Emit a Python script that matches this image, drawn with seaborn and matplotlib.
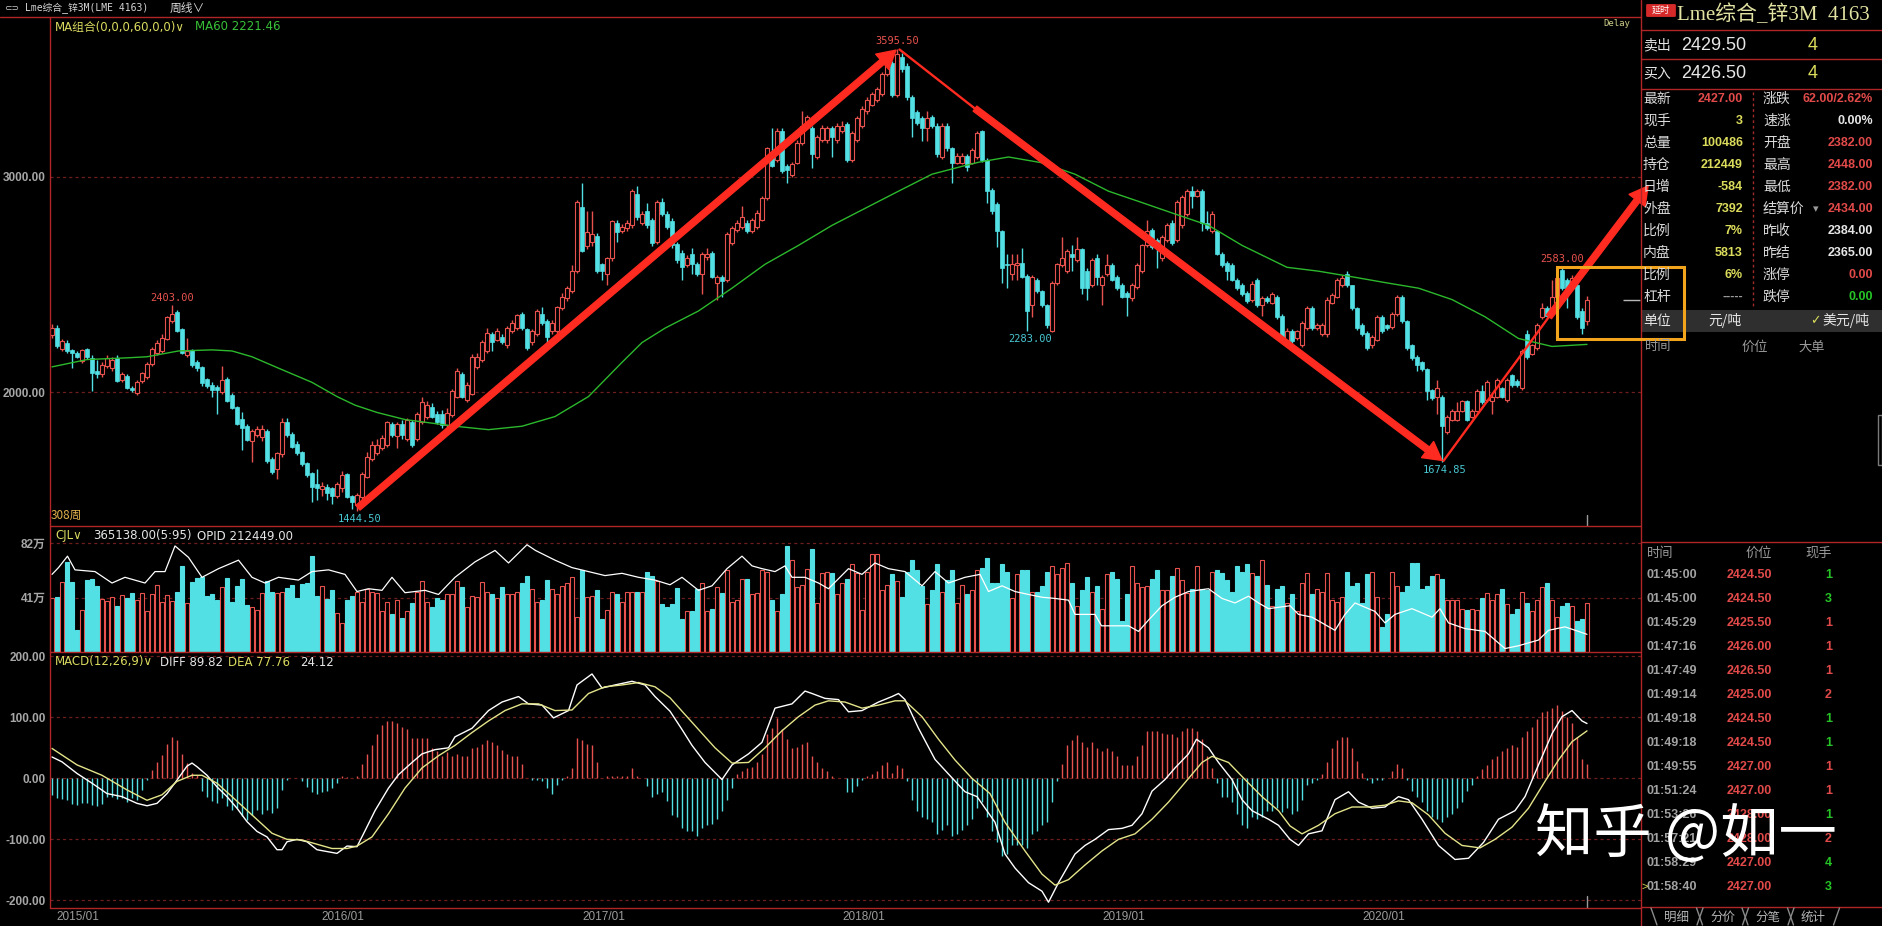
import matplotlib
matplotlib.use("Agg")
import numpy as np
import pandas as pd
import seaborn as sns
import matplotlib.pyplot as plt
from matplotlib.patches import Rectangle, FancyArrowPatch, FancyBboxPatch
from matplotlib.lines import Line2D

# ---------------------------------------------------------------- data
# weekly candles (index 0 = first week shown, 308 weeks)
opens = [2265,2297,2200,2230,2195,2180,2145,2200,2160,2100,
 2085,2120,2110,2160,2055,2075,2020,1995,2050,2070,
 2130,2180,2190,2245,2330,2370,2295,2170,2195,2140,
 2115,2060,2035,2025,2000,2060,1985,1930,1875,1840,
 1770,1800,1790,1820,1690,1640,1710,1860,1805,1760,
 1720,1670,1625,1570,1550,1560,1555,1515,1555,1620,
 1515,1474,1510,1607,1687,1715,1740,1753,1851,1795,
 1851,1780,1859,1780,1859,1885,1931,1899,1899,1846,
 1893,1979,2085,1965,1992,2117,2151,2191,2270,2244,
 2257,2217,2284,2297,2363,2292,2231,2270,2363,2329,
 2284,2284,2390,2435,2469,2562,2859,2680,2700,2727,
 2594,2549,2621,2788,2748,2761,2775,2920,2788,2841,
 2800,2700,2886,2828,2796,2690,2647,2589,2642,2594,
 2549,2629,2647,2509,2536,2520,2695,2753,2769,2788,
 2748,2769,2801,2902,3093,3080,3212,3050,3008,3066,
 3159,3239,3226,3093,3172,3172,3226,3172,3212,3247,
 3080,3172,3239,3305,3337,3358,3385,3478,3531,3379,
 3557,3517,3371,3300,3273,3226,3279,3239,3093,3239,
 3133,3066,3066,3098,3066,3093,3212,3080,2939,2875,
 2748,2594,2549,2589,2602,2541,2403,2522,2469,2403,
 2284,2509,2589,2562,2642,2615,2663,2562,2496,2621,
 2496,2549,2589,2536,2496,2461,2435,2488,2562,2682,
 2753,2708,2621,2708,2788,2708,2775,2828,2934,2912,
 2934,2788,2748,2748,2642,2602,2589,2522,2496,2461,
 2430,2522,2403,2435,2416,2443,2355,2244,2284,2249,
 2217,2297,2390,2297,2270,2270,2416,2443,2496,2549,
 2496,2390,2310,2276,2217,2244,2350,2310,2302,2363,
 2443,2329,2217,2164,2138,2106,2010,1979,1979,1814,
 1872,1872,1912,1957,1886,1912,2005,1965,1957,1979,
 2018,1965,2079,2053,2018,2270,2178,2204,2350,2390,
 2377,2443,2568,2522,2483,2496,2377,2330]
highs = [2315,2310,2245,2240,2200,2190,2200,2205,2170,2150,
 2140,2170,2165,2170,2095,2085,2030,2055,2095,2140,
 2210,2240,2270,2355,2403,2380,2300,2250,2200,2150,
 2120,2065,2045,2035,2120,2070,1995,1935,1905,1850,
 1830,1840,1845,1830,1700,1720,1880,1880,1815,1770,
 1725,1675,1630,1640,1580,1570,1560,1580,1635,1625,
 1520,1530,1630,1720,1770,1780,1800,1865,1860,1860,
 1870,1880,1872,1905,1975,1960,1950,1910,1915,1925,
 2015,2110,2095,2045,2175,2180,2240,2300,2280,2300,
 2270,2305,2335,2365,2370,2300,2295,2385,2395,2340,
 2335,2400,2460,2495,2590,2895,2973,2840,2841,2740,
 2600,2630,2800,2800,2780,2800,2945,2960,2840,2880,
 2810,2895,2900,2840,2810,2700,2660,2635,2668,2605,
 2650,2668,2655,2545,2545,2745,2770,2800,2867,2800,
 2810,2845,2910,3140,3226,3226,3226,3060,3070,3170,
 3305,3290,3235,3195,3240,3235,3235,3250,3260,3255,
 3215,3285,3330,3370,3395,3420,3490,3530,3540,3595.5,
 3575,3530,3380,3310,3285,3305,3290,3250,3250,3250,
 3140,3110,3110,3105,3135,3215,3220,3090,2950,2885,
 2755,2642,2642,2642,2668,2550,2545,2530,2475,2410,
 2515,2600,2721,2665,2682,2721,2670,2575,2625,2642,
 2545,2642,2600,2545,2505,2470,2505,2600,2690,2801,
 2765,2715,2730,2785,2800,2895,2915,2945,2960,2945,
 2945,2841,2840,2755,2650,2610,2600,2530,2505,2470,
 2515,2530,2445,2445,2465,2450,2365,2300,2295,2290,
 2330,2400,2400,2320,2320,2440,2460,2530,2545,2562,
 2500,2395,2320,2285,2265,2360,2360,2315,2370,2450,
 2450,2335,2225,2170,2145,2110,2015,2058,1985,1895,
 1920,1952,1965,1965,1920,2015,2032,2055,1990,2065,
 2025,2065,2085,2060,2200,2290,2225,2320,2416,2400,
 2522,2540,2583,2530,2545,2530,2390,2448]
lows = [2250,2205,2190,2180,2110,2160,2135,2155,2005,2065,
 2070,2110,2100,2045,2045,2015,2000,1985,2040,2060,
 2120,2170,2180,2240,2320,2280,2175,2165,2115,2100,
 2030,2020,1975,1900,1990,1955,1920,1845,1730,1770,
 1675,1790,1770,1670,1620,1595,1700,1790,1740,1705,
 1655,1605,1490,1500,1515,1500,1480,1505,1535,1505,
 1455,1444.5,1500,1600,1680,1705,1730,1745,1790,1740,
 1780,1770,1745,1770,1850,1875,1880,1850,1835,1820,
 1885,1970,1970,1955,1985,2105,2140,2180,2190,2235,
 2225,2205,2275,2290,2290,2195,2220,2260,2310,2220,
 2270,2275,2380,2425,2460,2555,2650,2665,2680,2555,
 2520,2500,2610,2700,2740,2750,2765,2800,2775,2765,
 2680,2690,2820,2760,2670,2600,2522,2580,2549,2540,
 2456,2615,2530,2430,2443,2510,2685,2745,2760,2740,
 2740,2760,2795,2895,3045,3070,3020,2973,3000,3060,
 3150,3230,3040,3085,3165,3160,3093,3160,3205,3070,
 3070,3165,3230,3295,3330,3350,3375,3470,3370,3370,
 3490,3360,3186,3240,3167,3167,3230,3095,3085,3120,
 2973,3060,3060,3030,3060,3085,3070,2881,2830,2674,
 2509,2483,2522,2522,2530,2283,2350,2460,2395,2300,
 2280,2500,2580,2555,2562,2605,2456,2430,2490,2496,
 2403,2540,2515,2475,2435,2355,2425,2480,2555,2675,
 2665,2576,2610,2700,2685,2700,2765,2820,2854,2905,
 2748,2755,2740,2635,2580,2522,2515,2475,2445,2415,
 2420,2395,2355,2415,2410,2340,2250,2235,2230,2240,
 2210,2290,2290,2290,2260,2257,2410,2435,2490,2490,
 2380,2290,2260,2195,2205,2235,2275,2290,2295,2355,
 2320,2195,2150,2098,2100,1965,1965,1899,1674.85,1805,
 1865,1865,1905,1865,1880,1905,1945,1955,1899,1970,
 1970,1955,2025,2025,2010,2155,2170,2195,2340,2350,
 2370,2435,2475,2390,2475,2340,2270,2310]
closes = [2300,2215,2235,2190,2180,2165,2195,2165,2090,2085,
 2125,2160,2150,2050,2085,2020,2010,2045,2090,2130,
 2200,2230,2250,2350,2365,2285,2180,2190,2125,2110,
 2040,2030,2010,2010,2055,1960,1925,1850,1835,1775,
 1820,1830,1830,1680,1630,1715,1860,1800,1745,1715,
 1665,1615,1560,1555,1565,1530,1515,1570,1615,1510,
 1490,1520,1620,1700,1753,1753,1788,1859,1798,1851,
 1798,1872,1753,1899,1952,1939,1885,1859,1846,1904,
 2005,2098,1979,2032,2164,2164,2231,2276,2231,2284,
 2231,2297,2323,2358,2297,2204,2284,2377,2323,2257,
 2323,2395,2443,2483,2562,2886,2655,2743,2735,2562,
 2562,2621,2796,2743,2769,2788,2934,2814,2828,2775,
 2695,2886,2828,2769,2682,2615,2583,2621,2594,2549,
 2642,2642,2536,2536,2514,2735,2761,2788,2814,2748,
 2801,2833,2902,3133,3053,3212,3027,3034,3061,3159,
 3239,3279,3106,3186,3226,3226,3186,3239,3239,3080,
 3204,3273,3318,3358,3385,3411,3478,3517,3379,3570,
 3504,3371,3273,3252,3226,3273,3239,3106,3239,3133,
 3066,3098,3098,3045,3125,3204,3080,2934,2841,2748,
 2576,2589,2594,2602,2536,2377,2536,2469,2403,2310,
 2509,2594,2621,2655,2629,2663,2483,2483,2615,2536,
 2536,2589,2522,2483,2443,2443,2496,2589,2682,2748,
 2674,2668,2721,2775,2695,2886,2907,2934,2912,2934,
 2788,2761,2828,2642,2589,2562,2522,2483,2456,2424,
 2504,2403,2435,2424,2456,2350,2257,2285,2239,2284,
 2323,2390,2297,2310,2310,2430,2451,2522,2530,2496,
 2390,2297,2270,2204,2257,2350,2284,2297,2363,2443,
 2329,2204,2159,2124,2106,2005,1973,2018,1841,1886,
 1912,1912,1957,1872,1912,2005,1952,2045,1979,2058,
 1979,2058,2032,2032,2191,2164,2217,2310,2390,2355,
 2443,2530,2483,2483,2530,2350,2297,2427]
# weekly volume (unit: 万 lots)
volume_wan = [40.4,41.6,52.9,67.9,52.9,16.5,31.6,54.1,54.9,49.6,
 39.6,38.4,41.6,34.6,42.6,40.6,44.1,39.1,44.1,30.8,
 43.6,50.1,37.6,42.6,38.4,45.1,64.7,36.6,52.6,55.4,
 56.6,42.1,43.6,39.1,48.6,55.4,37.6,49.6,54.9,35.3,
 33.6,31.6,44.6,53.1,45.4,44.6,45.4,47.9,50.1,40.4,
 51.1,51.6,72.2,42.1,49.6,39.6,46.6,29.1,21.6,39.1,
 42.1,45.5,37.8,47.6,45.5,44.6,30.5,37.8,28.3,39.0,
 25.8,30.5,36.9,45.5,53.2,37.8,33.5,40.3,39.0,43.3,
 43.3,53.2,48.9,33.5,42.0,41.2,52.4,45.5,43.3,40.3,
 48.9,43.3,43.3,45.5,51.9,57.5,47.6,37.8,39.0,54.1,
 47.2,43.3,49.8,51.9,56.2,26.2,61.8,41.2,42.0,46.4,
 24.9,31.8,45.5,43.3,37.8,45.5,45.5,45.5,45.5,60.5,
 57.5,53.2,36.1,33.5,36.1,48.5,24.9,30.5,30.5,47.6,
 51.9,30.5,32.6,48.9,44.6,61.8,37.8,39.0,54.9,54.9,
 43.3,44.6,61.8,60.5,39.0,30.5,43.3,79.8,69.1,48.9,
 50.6,62.7,77.7,36.9,59.2,60.5,59.2,43.3,51.9,54.9,
 66.1,59.2,31.8,60.5,73.4,73.4,46.4,50.6,58.4,53.2,
 41.2,60.5,69.1,61.8,49.8,36.1,46.4,66.1,45.5,54.1,
 61.8,36.9,50.6,43.3,46.4,61.8,63.5,70.4,51.9,51.9,
 66.1,60.5,40.3,58.4,61.8,61.8,45.5,45.5,49.8,60.5,
 64.8,58.4,63.5,67.0,51.9,34.8,46.4,56.2,45.5,49.8,
 32.6,58.4,60.5,54.9,23.2,43.3,64.8,51.9,48.9,49.8,
 54.9,61.8,46.4,46.4,57.5,63.5,54.1,44.6,47.6,64.8,
 47.6,46.4,60.5,61.8,59.2,54.1,45.5,64.8,60.5,66.1,
 59.2,57.5,69.1,50.6,34.8,47.6,49.8,36.9,43.3,30.5,
 51.9,59.2,43.3,47.6,45.5,59.2,39.0,37.8,41.2,60.5,
 49.8,51.9,36.9,58.4,60.5,41.2,18.9,28.3,60.5,49.8,
 45.5,49.8,67.0,67.0,47.6,49.8,57.5,58.4,54.9,39.0,
 39.0,39.0,32.6,31.8,32.6,31.8,40.3,44.6,39.0,43.3,
 47.6,36.1,28.3,32.6,45.5,36.9,30.5,39.0,48.9,51.9,
 39.0,26.2,34.8,36.9,34.8,23.2,24.9,36.9]
# MACD histogram bars
macd_hist = [-27,-33,-34,-36,-42,-44,-40,-41,-44,-46,
 -42,-31,-30,-34,-33,-38,-33,-36,-19,-3,
 14,27,38,56,67,62,40,25,8,5,
 -20,-30,-37,-40,-33,-45,-52,-49,-62,-68,
 -60,-52,-58,-52,-57,-49,-19,-3,0,0,
 -5,-14,-22,-25,-22,-20,-16,-8,3,2,
 1,3,24,40,54,73,87,94,94,90,
 84,81,66,66,66,66,50,45,36,43,
 36,40,36,37,50,52,56,62,59,54,
 47,40,37,36,24,0,-2,-2,-4,-16,
 -25,-11,-2,3,17,66,62,56,54,26,
 0,3,3,3,3,3,17,3,0,-13,
 -30,-25,-22,-37,-60,-63,-82,-86,-86,-94,
 -82,-77,-75,-67,-53,-35,-16,7,12,17,
 19,26,40,73,82,99,81,64,50,52,
 56,59,36,26,17,12,3,0,0,-22,
 -22,-13,-2,3,7,12,22,26,9,22,
 17,-4,-35,-53,-63,-67,-72,-91,-84,-77,
 -94,-91,-84,-77,-66,-49,-39,-63,-86,-105,
 -128,-124,-110,-110,-110,-114,-91,-86,-77,-72,
 -39,-4,24,54,62,71,59,52,59,50,
 45,50,45,36,22,22,22,36,54,78,
 78,78,75,73,73,68,78,82,82,78,
 64,36,17,-7,-30,-30,-39,-58,-77,-82,
 -63,-67,-63,-53,-53,-49,-56,-49,-58,-53,
 -35,-11,-7,-2,7,26,50,62,68,68,
 50,28,9,-2,-7,-2,-2,0,12,24,
 17,-2,-21,-30,-39,-53,-63,-67,-72,-63,
 -58,-49,-39,-21,-11,3,15,22,31,36,
 45,50,54,52,68,78,84,97,109,111,
 115,120,111,101,90,68,31,24.12]
# MA60 line read at points (week index, price)
ma60_week = [0,7,15,19,25.3,32,36,40,45.3,52,57,60.6,65,70.6,80.6,87.3,94,100.6,107.3,114,
 118,122.6,129.3,136,142.6,149.3,156,162.6,169.3,176,182.6,185.6,191.3,198,204.6,211.3,218,224.6,231.3,238,
 247,253.3,260,266.6,273.3,280,286.6,293.3,300,307]
ma60_val = [2117,2151,2159,2164,2191,2196,2191,2164,2111,2045,1979,1939,1905,1872,1841,1825,1841,1886,1979,2138,
 2230,2297,2377,2483,2594,2682,2775,2854,2934,3013,3053,3070,3093,3066,3013,2934,2881,2828,2775,2682,
 2580,2562,2536,2509,2483,2430,2350,2249,2212,2221.46]
# MACD DIFF / DEA lines read at points
diff_week = [0,2,5,8,11,14,17,19,21,23,25,27,28,29,31,33,35,37,39,41,43,45,46,47,49,51,53,55,57,59,
 61,62.6,64.6,67.3,69.3,72,74,76.6,79.3,80.6,84,87.3,90,93.3,95.3,98,100.3,103.3,105,108,
 110,112.6,116,118.6,120.6,123.6,126,128,130.6,134,136,139.3,142,144.6,148,150.6,152,154.6,157.3,159.3,
 162,165.3,168,169.3,170.6,173.3,176.6,179.3,182.6,185,188.6,190.6,192.6,195.3,198,199.3,201.3,204.6,206.6,208.6,
 211.3,214,216,218,220,222.6,224.6,227.3,228.9,231.3,233.3,236,238,240,243.3,245.3,247.6,249.3,251.3,254,
 256.6,259.3,261.3,264,266.6,269.3,271.3,274,277.3,280.6,283.3,286.3,289.3,292.6,294.6,297.3,300,302,304,306,307]
diff_val = [35,27,8,-8,-25,-30,-41,-45,-41,-25,-3,20,25,19,5,-14,-30,-49,-71,-87,-96,-117,-117,-104,-100,-104,-117,-120,-123,-111,
 -112,-86,-53,-16,6,26,40,47,50,68,82,111,125,134,122,120,99,111,153,171,
 148,153,159,153,134,110,80,54,26,-2,22,40,59,115,122,143,139,131,129,109,
 111,125,134,139,129,82,31,7,-22,-30,-72,-124,-147,-171,-185,-203,-171,-124,-110,-100,
 -84,-82,-77,-58,-21,-2,17,40,64,50,26,-2,-35,-53,-67,-77,-100,-110,-91,-86,
 -35,-22,-39,-49,-47,-30,-35,-67,-110,-133,-131,-105,-67,-53,-30,22,73,101,111,94,89.82]
dea_week = [0,5,10,15,19,22,25,28,30,33,36,40,44,47,50,53,56,59,61,64,
 67.3,70.6,74,77.3,80.6,84,87.3,90.6,94,97.3,100.6,104,107.3,110.6,114,117.3,120.6,123.6,126,129.3,
 132.6,136,139.3,142.6,146,149.3,152.6,155.3,158.6,162,165.3,168.6,170.6,174,177.3,180.6,184,187.6,190.6,194.6,
 198,200.6,203.3,206.6,210,213.3,216.6,220,223.3,226.6,230,232,235.3,238.6,242,245.3,247.6,250,253.3,256.6,
 260,263.3,266.6,269.3,272,275.3,278.6,282,285.6,288.6,292,295.3,298.6,301.3,304,307]
dea_val = [49,22,5,-19,-36,-27,-5,5,5,-8,-30,-60,-90,-100,-101,-108,-115,-115,-111,-96,
 -58,-16,17,37,54,75,94,111,122,122,111,112,139,150,153,157,150,132,110,80,
 50,25,26,50,78,101,120,127,125,115,120,127,127,101,64,30,0,-25,-72,-119,
 -157,-175,-166,-142,-119,-100,-91,-67,-39,-7,26,36,26,-2,-30,-53,-78,-91,-77,-58,
 -47,-47,-44,-37,-40,-60,-90,-110,-114,-100,-80,-49,-5,30,60,77.76]
# open-interest (OPID) white line in the volume pane, read in pane units (万)
opid_week = [0,1.3,3.1,4.6,8.6,12,14.6,18.6,20.6,22.6,24.6,27.3,30,33.3,37.3,40,42.6,45.3,49.3,52,
 55.3,58.6,61,63.3,66,68,70.6,74.6,77.3,80.6,84.6,88.6,91.3,95,96.7,100.6,104,107.3,110.6,114,
 117.3,120.6,123.6,126,129.3,132,135,138,140,142,144.6,146.6,148,150.6,153.3,155.3,159.3,162,164.6,167.3,
 170.6,174,176.6,179.3,182.6,185.6,187.3,190,192.6,195.3,198,200.6,203.3,204.6,208.6,209.9,212.6,215.3,217.3,219.3,
 222,224.6,227.3,231.3,234,236.6,239.3,241.3,243.3,247.6,249.3,252,256.6,258.6,260.6,264.6,266.6,268.6,272,276,
 277.6,279.3,282.6,286.6,290.6,293.3,297.3,299.3,302.6,305.3,307]
opid_wan = [58.4,63.5,72.1,61.8,60.5,51.9,56.2,51.9,60.5,60.5,79.8,71.2,56.2,62.7,69.1,56.2,51.9,56.2,54.1,60.5,
 61.8,58.4,45.5,47.6,46.4,56.2,44.6,46.4,43.3,56.2,67.8,76.4,67.0,80.7,76.4,69.1,63.5,60.5,57.5,59.2,
 56.2,54.1,50.6,56.2,46.4,49.8,62.7,72.1,64.8,62.7,60.5,64.8,56.2,56.2,51.9,47.6,62.7,58.4,67.0,62.7,
 60.5,49.8,60.5,51.9,56.2,58.4,45.5,49.8,45.5,43.3,41.2,40.3,39.0,28.3,28.3,19.7,19.7,19.7,15.5,24.0,
 34.8,41.2,45.5,47.6,40.3,36.9,42.0,36.9,32.6,34.8,28.3,26.2,16.3,28.3,36.9,30.5,21.9,28.3,32.6,26.2,
 32.6,21.9,17.6,15.5,2.6,4.7,9.0,16.3,18.9,15.5,13.3]
# marked extremes (week index, kind)
extreme_week = [24, 61, 169, 195, 278, 302]
extreme_kind = ['high', 'low', 'high', 'low', 'low', 'high']
# hand-drawn trend arrows (week index, price): thin lead-in, then thick arrow
trend_thin = [((169.5, 3593), (184.6, 3318)), ((278.3, 1680), (299.4, 2350))]
trend_thick = [((61.2, 1462), (168.8, 3590)), ((184.6, 3318), (278.0, 1682)), ((299.4, 2350), (319.2, 2958))]
date_week = [0.8, 53.8, 106, 158, 210, 262]
date_labels = ['2015/01', '2016/01', '2017/01', '2018/01', '2019/01', '2020/01']

# quote panel
quote_left_lab = ['最新', '现手', '总量', '持仓', '日增', '外盘', '比例', '内盘', '比例', '杠杆']
quote_left_val = ['2427.00', '3', '100486', '212449', '-584', '7392', '7%', '5813', '6%', '-----']
quote_right_lab = ['涨跌', '速涨', '开盘', '最高', '最低', '结算价', '昨收', '昨结', '涨停', '跌停']
quote_right_val = ['62.00/2.62%', '0.00%', '2382.00', '2448.00', '2382.00', '2434.00', '2384.00', '2365.00', '0.00', '0.00']
trade_time = ['01:45:00', '01:45:00', '01:45:29', '01:47:16', '01:47:49', '01:49:14', '01:49:18',
              '01:49:18', '01:49:55', '01:51:24', '01:53:26', '01:57:21', '01:58:29', '01:58:40']
trade_price = ['2424.50', '2424.50', '2425.50', '2426.00', '2426.50', '2425.00', '2424.50',
               '2424.50', '2427.00', '2427.00', '2428.00', '2428.00', '2427.00', '2427.00']
trade_qty = [1, 3, 1, 1, 1, 2, 1, 1, 1, 1, 1, 2, 4, 3]
trade_side = ['s', 's', 'b', 'b', 'b', 'b', 's', 's', 'b', 'b', 's', 'b', 's', 's']

# ---------------------------------------------------------------- style
n = len(closes)
for arr in (opens, highs, lows, volume_wan, macd_hist):
    assert len(arr) == n, len(arr)
assert len(ma60_week) == len(ma60_val) and len(diff_week) == len(diff_val)
assert len(dea_week) == len(dea_val) and len(opid_week) == len(opid_wan)

W, H = 1883, 926
sns.set_theme(style="dark", rc={"axes.facecolor": "black", "figure.facecolor": "black",
                                "axes.grid": False, "savefig.facecolor": "black"})
plt.rcParams['font.family'] = ['DejaVu Sans', 'Noto Sans CJK SC']
CJK = ['Noto Sans CJK SC', 'DejaVu Sans']
NUM = ['Liberation Sans', 'Noto Sans CJK SC']

RED = '#e8524e'; CYAN = '#52e0e4'; FRAME = '#b02628'; GRID = '#6e1d1d'
YEL = '#dada60'; WHITE = '#e6e6e6'; GRAY = '#a6a6a6'; GREEN = '#26c426'
ARROW = '#ff2a20'; QRED = '#e24a4a'; QYEL = '#dcdc5c'

fig = plt.figure(figsize=(W / 100, H / 100), dpi=100)
fig.patch.set_facecolor('black')

def FX(x): return x / W
def FY(y): return 1 - y / H

def panel(y0, y1):
    ax = fig.add_axes([FX(50), FY(y1), (1641 - 50) / W, (y1 - y0) / H])
    ax.set_facecolor('black')
    for s in ax.spines.values():
        s.set_visible(False)
    ax.tick_params(axis='both', length=0, labelsize=8.5, labelcolor=GRAY, pad=3)
    return ax

def finish(ax, ylim):
    ax.set_xlim(-0.4, 317.8)
    ax.set_ylim(*ylim)
    ax.set_xlabel(''); ax.set_ylabel('')
    for lb in ax.get_yticklabels():
        lb.set_fontweight('bold'); lb.set_family(NUM)

def dashed(ax, v):
    ax.axhline(v, color=GRID, lw=0.9, ls=(0, (2.5, 2.5)), zorder=1)

wk = np.arange(n)
o = np.array(opens, float); hi = np.array(highs, float)
lo = np.array(lows, float); c = np.array(closes, float)
up = c >= o

# ---------------------------------------------------------------- price pane
ax_p = panel(17, 526)
for v in (2000, 3000):
    dashed(ax_p, v)
ax_p.vlines(wk, lo, hi, colors=np.where(up, RED, CYAN), lw=1.0, zorder=2)
for i in range(n):
    b0 = min(o[i], c[i]); bh = max(abs(c[i] - o[i]), 4)
    if up[i]:
        ax_p.add_patch(Rectangle((i - 0.33, b0), 0.66, bh, fc='black', ec=RED, lw=0.8, zorder=3))
    else:
        ax_p.add_patch(Rectangle((i - 0.33, b0), 0.66, bh, fc=CYAN, ec=CYAN, lw=0.5, zorder=3))
sns.lineplot(x=ma60_week, y=ma60_val, ax=ax_p, color='#2cb82c', lw=1.0, zorder=4, legend=False)
ax_p.set_xticks([])
ax_p.set_yticks([2000, 3000])
ax_p.set_yticklabels([f'{v:.2f}' for v in (2000, 3000)])
finish(ax_p, (1377, 3744))

for wi, kind in zip(extreme_week, extreme_kind):
    if kind == 'high':
        ax_p.annotate(f'{hi[wi]:.2f}', (wi, hi[wi]), xytext=(0, 2), textcoords='offset points',
                      ha='center', va='bottom', color=RED, fontsize=7.5, family='DejaVu Sans Mono', zorder=7)
    else:
        ax_p.annotate(f'{lo[wi]:.2f}', (wi + 0.6, lo[wi]), xytext=(0, -2), textcoords='offset points',
                      ha='center', va='top', color='#48c8d2', fontsize=7.5, family='DejaVu Sans Mono', zorder=7)

for p0, p1 in trend_thin:
    ax_p.plot([p0[0], p1[0]], [p0[1], p1[1]], color=ARROW, lw=1.7, zorder=8, clip_on=False,
              solid_capstyle='round')
for p0, p1 in trend_thick:
    ax_p.add_patch(FancyArrowPatch(p0, p1, arrowstyle='simple,head_length=1.3,head_width=1.45,tail_width=0.45',
                                   mutation_scale=10, color=ARROW, shrinkA=0, shrinkB=0,
                                   clip_on=False, zorder=8))
# last-bar marker and last-price tick
ax_p.axvline(wk[-1], ymin=0, ymax=0.022, color='#9a9a9a', lw=1)
ax_p.hlines(c[-1], 314.2, 317.6, color='#b8b8b8', lw=1)

# ---------------------------------------------------------------- volume pane
ax_v = panel(526, 652)
for v in (41, 82):
    dashed(ax_v, v)
ax_v.bar(wk, volume_wan, width=0.7, color=np.where(up, 'black', CYAN),
         edgecolor=np.where(up, RED, CYAN), lw=0.8, zorder=2)
sns.lineplot(x=opid_week, y=opid_wan, ax=ax_v, color='white', lw=0.9, zorder=3, legend=False)
ax_v.set_xticks([])
ax_v.set_yticks([41, 82])
ax_v.set_yticklabels(['41万', '82万'])
finish(ax_v, (0, 94.8))

# ---------------------------------------------------------------- MACD pane
ax_m = panel(652, 908)
for v in (-200, -100, 0, 100, 200):
    dashed(ax_m, v)
hist = np.array(macd_hist, float)
ax_m.vlines(wk, 0, hist, colors=np.where(hist >= 0, RED, CYAN), lw=1.0, zorder=2)
sns.lineplot(x=diff_week, y=diff_val, ax=ax_m, color='white', lw=1.0, zorder=3, legend=False)
sns.lineplot(x=dea_week, y=dea_val, ax=ax_m, color='#e4e48a', lw=1.0, zorder=3, legend=False)
ax_m.axvline(wk[-1], ymin=0, ymax=0.045, color='#9a9a9a', lw=1)
ax_m.set_yticks([-200, -100, 0, 100, 200])
ax_m.set_yticklabels([f'{v:.2f}' for v in (-200, -100, 0, 100, 200)])
ax_m.set_xticks(date_week)
ax_m.set_xticklabels(date_labels)
ax_m.tick_params(axis='x', pad=2.5, labelsize=8.5, labelcolor='#9c9c9c')
for lb in ax_m.get_xticklabels():
    lb.set_ha('left'); lb.set_family(NUM)
finish(ax_m, (-212.5, 207))

# ---------------------------------------------------------------- frame lines
def fline(x0, y0, x1, y1, color=FRAME, lw=1.0, ls='-', z=5):
    fig.add_artist(Line2D([FX(x0), FX(x1)], [FY(y0), FY(y1)], transform=fig.transFigure,
                          color=color, lw=lw, ls=ls, zorder=z))

fline(0, 17, 1641, 17)
fline(50, 17, 50, 908)
fline(50, 526, 1641, 526)
fline(50, 652, 1641, 652)
fline(50, 908, 1641, 908)
fline(1641, 0, 1641, 926)
for yy in (30, 59, 89, 542, 907):
    fline(1641, yy, 1883, yy)
fline(1753, 92, 1753, 306, color='#a02a2a', ls=(0, (2, 2)))

def t(x, y, s, color, size=8.5, ha='left', va='center', family=None, weight='normal', z=10):
    kw = {}
    if family is not None:
        kw['family'] = family
    fig.text(FX(x), FY(y), s, color=color, fontsize=size, ha=ha, va=va, fontweight=weight, zorder=z, **kw)

# ---------------------------------------------------------------- header & legends
t(4, 8, '⊂⊃', '#c8c8c8', 6.5)
t(25, 8, 'Lme综合_锌3M(LME 4163)', '#d6d6d6', 7, family=['DejaVu Sans Mono', 'Noto Sans CJK SC'])
t(170, 8, '周线∨', '#d6d6d6', 8.5, family=CJK)
t(55, 27, 'MA组合(0,0,0,60,0,0)∨', YEL, 8.5)
t(195, 27, f'MA60 {ma60_val[-1]:.2f}', '#38c238', 8.5)
t(1603, 24, 'Delay', '#cfcf8a', 6.5, family='DejaVu Sans Mono')
t(51, 515, '308周', '#e0b04a', 8.5, family=CJK)
t(55, 536, 'CJL∨', YEL, 8.5)
t(93, 536, '365138.00(5:95)', WHITE, 8.5)
t(197, 536, 'OPID 212449.00', WHITE, 8.5)
t(55, 662, 'MACD(12,26,9)∨', YEL, 8.5)
t(160, 662, f'DIFF {diff_val[-1]:.2f}', WHITE, 8.5)
t(228, 662, f'DEA {dea_val[-1]:.2f}', YEL, 8.5)
t(300, 662, f'{macd_hist[-1]:.2f}', WHITE, 8.5)

# orange highlight box
fig.add_artist(Rectangle((FX(1557), FY(339)), (1684 - 1557) / W, (339 - 267) / H,
                         transform=fig.transFigure, fill=False, ec='#f2a51c', lw=2.2, zorder=9))

# ---------------------------------------------------------------- right quote panel
fig.add_artist(FancyBboxPatch((FX(1648), FY(16)), 26 / W, 11 / H, boxstyle='round,pad=0.001',
                              transform=fig.transFigure, fc='#d62a2a', ec='none', zorder=9))
t(1661, 10.5, '延时', 'white', 6.5, ha='center', family=CJK)
t(1677, 15, 'Lme综合_锌3M  4163', '#e2e2a2', 15, family=['Liberation Serif', 'Noto Sans CJK SC'])
t(1643, 45, '卖出', WHITE, 10, family=CJK)
t(1681, 45, '2429.50', WHITE, 13, family=NUM)
t(1813, 45, '4', QYEL, 13, ha='center', family=NUM)
t(1643, 74, '买入', WHITE, 10, family=CJK)
t(1681, 74, '2426.50', WHITE, 13, family=NUM)
t(1813, 74, '4', QYEL, 13, ha='center', family=NUM)

row_y = [99, 121, 143, 165, 187, 209, 231, 253, 275, 297]
lcol = [QRED, QYEL, QYEL, QYEL, QYEL, QYEL, QYEL, QYEL, QYEL, '#9a9a9a']
rcol = [QRED, WHITE, QRED, QRED, QRED, QRED, WHITE, WHITE, QRED, GREEN]
for k, yy in enumerate(row_y):
    t(1643, yy, quote_left_lab[k], '#dadada', 10, family=CJK)
    t(1743, yy, quote_left_val[k], lcol[k], 9, ha='right', family=NUM, weight='bold')
    t(1763, yy, quote_right_lab[k], '#dadada', 10, family=CJK)
    t(1873, yy, quote_right_val[k], rcol[k], 9, ha='right', family=NUM, weight='bold')
t(1813, 209, '▾', '#9a9a9a', 8, family=['DejaVu Sans'])

fig.add_artist(Rectangle((FX(1642), FY(332)), (1883 - 1642) / W, 22 / H, transform=fig.transFigure,
                         fc='#2f2f2f', ec='none', zorder=1))
t(1643, 321, '单位', WHITE, 10, family=CJK)
t(1708, 321, '元/吨', WHITE, 10, family=CJK)
t(1810, 321, '✓', QYEL, 9, family=['DejaVu Sans'])
t(1822, 321, '美元/吨', WHITE, 10, family=CJK)
t(1645, 347, '时间', '#9a9a9a', 9.5, family=CJK)
t(1742, 347, '价位', '#9a9a9a', 9.5, family=CJK)
t(1798, 347, '大单', '#9a9a9a', 9.5, family=CJK)

t(1647, 553, '时间', '#9a9a9a', 9.5, family=CJK)
t(1772, 553, '价位', '#9a9a9a', 9.5, ha='right', family=CJK)
t(1832, 553, '现手', '#9a9a9a', 9.5, ha='right', family=CJK)
for k in range(len(trade_time)):
    yy = 575 + 24 * k
    t(1647, yy, trade_time[k], '#a2a2a2', 9, family=NUM, weight='bold')
    t(1772, yy, trade_price[k], QRED, 9, ha='right', family=NUM, weight='bold')
    t(1832, yy, str(trade_qty[k]), GREEN if trade_side[k] == 's' else QRED, 9, ha='right',
      family=NUM, weight='bold')
t(1642, 887, '>', QYEL, 8, family=NUM)

for k, lab in enumerate(['明细', '分价', '分笔', '统计']):
    cx = 1677 + 45.5 * k
    fline(cx - 26, 908, cx - 20, 925, color='#8a8a8a')
    fline(cx + 20, 925, cx + 26, 908, color='#8a8a8a')
    t(cx, 917, lab, '#b4b4b4', 9, ha='center', family=CJK)
fig.add_artist(Rectangle((FX(1878), FY(465)), 4 / W, 50 / H, transform=fig.transFigure,
                         fill=False, ec='#7a7a7a', lw=1, zorder=5))

# watermark
t(1686, 836, '知乎 @如一', 'white', 42, ha='center', family=CJK, z=20)

fig.savefig('out.png', dpi=100, facecolor='black')
